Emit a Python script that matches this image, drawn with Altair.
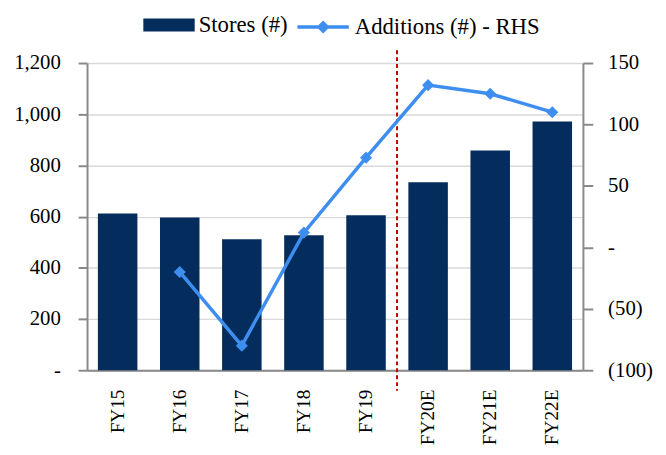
import altair as alt
import pandas as pd

categories = ["FY15", "FY16", "FY17", "FY18", "FY19", "FY20E", "FY21E", "FY22E"]
stores = [612, 597, 512, 527, 605, 734, 858, 972]
additions = [None, -20, -80, 12, 73, 132, 125, 110]
left_ticks = [0, 200, 400, 600, 800, 1000, 1200]
right_ticks = [-100, -50, 0, 50, 100, 150]
divider_after = ["FY19"]
stores_label = "Stores (#)"
additions_label = "Additions (#) - RHS"

BAR = "#042C5C"
LINE = "#3E8EF0"
RED = "#C00000"
AXIS = "#898989"
GRID = "#D9D9D9"
FONT = "Liberation Serif"

df = pd.DataFrame({"cat": categories, "stores": stores, "additions": additions})
df["s_key"] = stores_label
df["a_key"] = additions_label
df_add = df.dropna(subset=["additions"])
df_div = pd.DataFrame({"cat": divider_after})

x_scale = alt.Scale(paddingInner=0.3637, paddingOuter=0.175)
x_axis = alt.Axis(title=None, labelAngle=-90, ticks=False, labelPadding=19,
                  labelFontSize=19.5, domainColor=AXIS, domainWidth=2)
x_enc = alt.X("cat:N", sort=categories, scale=x_scale, axis=x_axis)

y_left = alt.Y(
    "stores:Q",
    scale=alt.Scale(domain=[0, 1200], nice=False, zero=False),
    axis=alt.Axis(
        title=None, values=left_ticks, grid=True, gridColor=GRID, gridWidth=1.5,
        tickSize=9, tickColor=AXIS, tickWidth=2, domainColor=AXIS, domainWidth=2,
        labelPadding=18,
        labelExpr="datum.value == 0 ? '-' : format(datum.value, ',')",
    ),
)

y_right = alt.Y(
    "additions:Q",
    scale=alt.Scale(domain=[-100, 150], nice=False, zero=False),
    axis=alt.Axis(
        title=None, orient="right", values=right_ticks, grid=False,
        tickSize=10, tickColor=AXIS, tickWidth=2, domainColor=AXIS, domainWidth=2,
        labelPadding=15,
        labelExpr="datum.value == 0 ? '-' : (datum.value < 0 ? '(' + format(-datum.value, ',') + ')' : format(datum.value, ','))",
    ),
)

bars = alt.Chart(df).mark_bar().encode(
    x=x_enc,
    y=y_left,
    fill=alt.Fill(
        "s_key:N",
        scale=alt.Scale(domain=[stores_label], range=[BAR]),
        legend=alt.Legend(
            title=None, orient="none", legendX=57, legendY=-64.5, padding=0,
            symbolType="M-1,-0.25L1,-0.25L1,0.25L-1,0.25Z", symbolSize=2704,
            symbolStrokeWidth=0, labelOffset=4, labelLimit=400,
        ),
    ),
)

divider = alt.Chart(df_div).mark_rule(color=RED, strokeDash=[4, 3], strokeWidth=2,
                                      xOffset=11.4).encode(
    x=alt.X("cat:N", sort=categories, bandPosition=1),
    y=alt.datum(1250),
    y2=alt.datum(-80),
)

line = alt.Chart(df_add).mark_line(strokeWidth=3.5).encode(
    x=x_enc,
    y=y_right,
    stroke=alt.Stroke(
        "a_key:N",
        scale=alt.Scale(domain=[additions_label], range=[LINE]),
        legend=alt.Legend(
            title=None, orient="none", legendX=211, legendY=-64.5, padding=0,
            symbolType="M-1,0L1,0M0,-0.16L0.16,0L0,0.16L-0.16,0Z", symbolSize=2704,
            symbolStrokeWidth=3.5, symbolFillColor=LINE, symbolStrokeColor=LINE,
            labelOffset=4, labelLimit=400,
        ),
    ),
)

points = alt.Chart(df_add).mark_point(shape="diamond", filled=True, size=150,
                                      color=LINE, opacity=1).encode(
    x=x_enc,
    y=y_right,
)

left = alt.layer(bars, divider)
right = alt.layer(line, points)

chart = (
    alt.layer(left, right)
    .resolve_scale(y="independent", fill="independent", stroke="independent")
    .properties(
        width=502, height=311,
        autosize=alt.AutoSizeParams(type="none"),
        padding={"left": 80, "top": 53, "right": 76, "bottom": 75},
    )
    .configure_view(stroke=None)
    .configure_axis(labelFont=FONT, labelFontSize=21, labelColor="black")
    .configure_legend(labelFont=FONT, labelFontSize=23, labelColor="black")
)

chart.save("out.html", embed_options={"renderer": "svg", "actions": False})
